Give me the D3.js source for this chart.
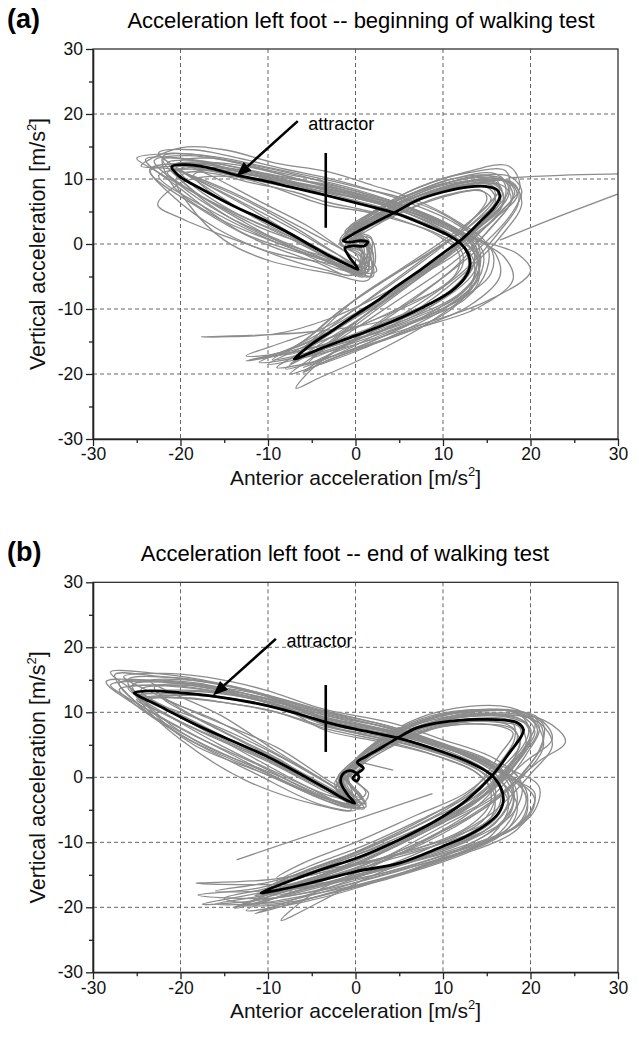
<!DOCTYPE html>
<html>
<head>
<meta charset="utf-8">
<script src="https://cdn.jsdelivr.net/npm/d3@7"></script>
<style>
  body { margin: 0; background: #fff; }
  svg { display: block; font-family: Arial, "Liberation Sans", sans-serif; }
</style>
</head>
<body>
<svg id="chart" width="639" height="1039"></svg>
<script>
// axis ticks (both axes run -30..30)
const majorTicks = [-30, -20, -10, 0, 10, 20, 30];
const minorTicks = [-25, -15, -5, 5, 15, 25];
const gridTicks = [-20, -10, 0, 10, 20];

// panel (a): beginning of walking test
const attractorA = [
  [-21.0, 11.9], [-19.5, 12.2], [-17.0, 11.8], [-13.6, 10.6], [-10.0, 9.6], [-7.5, 8.8], [-3.4, 7.5],
  [1.0, 6.0], [4.6, 4.7], [8.0, 2.9], [10.4, 1.5], [12.0, 0.1], [12.9, -1.6], [13.1, -3.2], [12.5, -5.2],
  [11.0, -7.2], [8.5, -9.2], [4.6, -11.7], [0.0, -14.1], [-4.0, -16.1], [-6.3, -17.4], [-7.0, -17.7],
  [-6.3, -16.8], [-4.9, -15.3], [-2.5, -13.2], [0.0, -10.9], [2.5, -8.7], [4.6, -6.6], [7.5, -3.9],
  [10.0, -1.4], [12.3, 0.9], [14.2, 3.4], [15.8, 5.6], [16.5, 7.3], [16.2, 8.3], [15.2, 8.8], [13.0, 8.8],
  [10.0, 8.0], [7.0, 6.7], [4.7, 5.0], [2.2, 3.3], [0.5, 2.1], [-0.8, 1.1], [-1.4, 0.5], [-0.6, 0.3],
  [0.6, 0.5], [1.4, 0.3], [1.0, -0.3], [-0.2, -0.3], [-1.2, -0.6], [-0.8, -1.8], [0.3, -3.9], [-1.0, -3.1],
  [-2.9, -1.9], [-7.5, 1.6], [-10.0, 3.4], [-14.0, 5.9], [-17.5, 8.4], [-20.1, 10.4]
];
const cyclesA = [
  [[-23,12.8],[-19,13.6],[-14,12.6],[-8,10.8],[-3.4,9.6],[1,8],[5,6.2],[11,2.6],[14.5,-1],[14,-5.5],[9.5,-10.5],[1,-16],[-4,-18.5],[-7.5,-20],[-5,-17.5],[0,-13],[5,-8.5],[11,-3],[15.5,2.5],[18,7.5],[16.5,10.2],[11,9.6],[5,6.8],[0.8,3.5],[-1.2,1.2],[1.2,0.2],[1.2,-4.5],[-2.5,-2.8],[-8,0.2],[-15,4.5],[-20.5,9.5]],
  [[-19.5,11],[-16,10.8],[-12.5,9.6],[-7,8],[-3.4,6.5],[1,5.2],[4.5,4],[9.5,1.2],[11.8,-1.4],[11.5,-4.5],[7.5,-8.5],[0,-12.8],[-4,-15],[-6,-16.5],[-4,-14],[0,-10],[4.5,-5.8],[9.5,-0.8],[13.2,3.5],[15.5,7],[14.2,8.2],[9.5,7.2],[4.5,4.4],[0.5,1.8],[-0.8,0.2],[0.5,-0.6],[0.5,-3.5],[-2.5,-1.2],[-7,2.6],[-13,7],[-18,10]],
  [[-22,13.5],[-18.5,13.8],[-14.5,12.8],[-8,10.5],[-3.4,8.8],[1.5,7.2],[5.5,5.8],[11.5,2.2],[13.8,-1.2],[13.2,-6],[8,-11],[-1,-16.5],[-6,-18.5],[-9,-19],[-6,-16.5],[-1,-12.2],[4.2,-7.5],[9.5,-2.5],[14.8,3.8],[17.5,8.5],[16,10.8],[10.5,9.8],[4.5,6.5],[0.2,3],[-1.4,0.8],[0.6,-0.4],[0.8,-4.6],[-3.5,-2.4],[-9,0.2],[-16,4.2],[-21,9.2]],
  [[-20,11.5],[-16.5,12.5],[-12,11.8],[-6.5,10],[-3.4,9],[2,7.2],[6,5.5],[12,2],[15.5,-0.8],[15.5,-4.5],[11,-9.2],[3,-14],[-3,-17],[-5.5,-18.5],[-3.5,-16],[1,-11.5],[6,-6.5],[11.5,-1],[16,4],[18.2,8],[17,9.8],[12,9.3],[6,6.8],[1.5,3.6],[-0.5,1],[1.5,0.4],[1.8,-3.8],[-1.5,-2.5],[-6.5,0.5],[-12.5,4.8],[-18,9.6]],
  [[-24,13],[-20,13.2],[-15,11.8],[-9,9.6],[-3.4,8],[2,6.4],[5.5,5.2],[11,2.4],[13.8,-0.5],[13.6,-4.2],[10,-8.5],[2.5,-13],[-5,-16],[-12.5,-18],[-7.5,-16.2],[-2,-12.8],[3.5,-8.5],[9,-3.5],[13.5,1.8],[16.8,6],[16.2,9.4],[12,9],[6.5,6.5],[2,3.5],[-0.5,1.2],[1,0],[2,-5],[-1,-3.5],[-6,-1.5],[-13,1.8],[-20,8.5]],
  [[-22.6,6],[-21,8.5],[-18,10.2],[-12,10.2],[-6,8.8],[-1,7],[4,5.2],[9,2.4],[12.5,-0.5],[13,-3.5],[10.5,-7.5],[4,-12],[-3,-15.5],[-7.5,-18.5],[-4.5,-15.8],[0.5,-11.5],[5.5,-6.8],[10.5,-1.8],[14.5,3],[17,7],[15.8,9.2],[10.5,8.6],[5,5.5],[1,2.8],[-1.5,0.6],[0.5,-0.8],[1.5,-4.2],[-3,-3],[-9,-1.5],[-15.3,1.4],[-20,4]],
  [[-21.5,12.5],[-18,12.8],[-13.5,11.2],[-7.5,9.5],[-3.4,8.2],[1,6.8],[5,5.5],[10.5,2.8],[13.2,0],[13.5,-3],[11,-7],[4,-11.5],[-5,-13.5],[-17.6,-14.3],[-9,-13.8],[-3,-11.5],[3,-7.8],[9,-3],[13.8,2.2],[17,6.5],[16.8,9.8],[12.5,9.6],[7,7.4],[2.5,4.4],[0,2],[1.5,0.6],[1,-4],[-2,-2.2],[-6.5,1],[-12.5,5.8],[-18.5,10.2]],
  [[-20.5,12.2],[-17,12.2],[-13,11],[-7.5,9.4],[-3.4,8.5],[0.5,7.2],[4.8,5.4],[10.8,1.4],[13.5,-2.5],[13,-7],[8.5,-12],[1,-17.5],[-4,-20.5],[-6.8,-22.2],[-4.8,-19],[0,-14.5],[5,-9.8],[11,-4],[15,1.8],[17.8,6.8],[16.8,9],[11.5,8.8],[5.5,6],[1,3],[-1,1],[1.3,-0.2],[1.6,-5],[-2,-3],[-7,0.8],[-14,5],[-19,9.5]],
  [[-21.5,11],[-18,11.5],[-14,10.5],[-8.5,9],[-3.4,8],[2,6.6],[7,4.2],[13,1],[18.5,-1.5],[20,-4.2],[15,-8.8],[6,-13],[-1.5,-16],[-10,-18.5],[-5.5,-15.5],[0,-11.2],[6,-5.5],[12,0],[16,4],[18.5,7.5],[17.4,9.6],[13,9.2],[7.5,7.5],[2.8,4.5],[-0.3,2],[1.5,-0.5],[0.5,-3.2],[-2.8,-2.2],[-8.5,1.5],[-14.5,5.2],[-19.5,8.8]],
  [[-22.5,14],[-18.5,14.5],[-14,13.4],[-8,11.5],[-3.4,10.2],[2,8.2],[6,6.4],[11,3.5],[13.8,0.5],[14.2,-3.5],[12,-7.5],[6,-11.5],[-2,-15],[-10.5,-17.5],[-6,-15.5],[-1,-11.8],[4.5,-7],[10,-2],[14.5,3],[17.5,7.5],[17.2,11.2],[13,11],[7,8.6],[2,5],[-0.8,2.3],[1,0.8],[1,-3.4],[-2.2,-1.5],[-7,2.2],[-13.5,6.8],[-19.5,11]],
  [[-24.5,12],[-20,14.8],[-15,14.5],[-9,12.4],[-3.4,11.2],[2,9],[6.5,7],[12,3.2],[15,0],[15,-4],[12.5,-8.5],[6,-12.5],[-1,-16.5],[-8,-19.2],[-4,-16],[0,-12],[6,-6],[11.5,-1.5],[16.2,4.5],[18.8,8.8],[17.5,12],[12.5,11],[6,8],[1.2,4.2],[-1,1.6],[1.8,0.8],[2,-3.5],[-2,-0.5],[-8,3.8],[-14.5,8.2],[-21,11.5]],
  [[-20.5,10],[-17,11.4],[-13,10.8],[-7,9.2],[-3.4,7.6],[1.5,6],[5,4.6],[10,2],[12.5,-0.8],[12.8,-4],[9.5,-8.8],[2,-13.8],[-5,-17],[-11,-18.2],[-7,-15.8],[-1.5,-11.8],[4,-7.4],[9.5,-2.8],[14,2.6],[16.6,6.8],[15.6,9],[11,8.6],[5.5,5.6],[1.4,2.6],[-0.3,0.2],[1.8,-0.8],[1.5,-5.5],[-3,-4.5],[-10,-2.5],[-15,0.6],[-19,6]],
  [[-25,13.2],[-21,13.9],[-16,13.4],[-10,11.8],[-3.4,9.9],[1,8.5],[5.5,7],[10,4.6],[13.5,1.5],[16,-1.5],[16.5,-5],[13,-9.5],[5,-14],[-3,-17.8],[-6,-19.8],[-3,-17],[2,-13.5],[7.5,-9],[12.5,-4],[16.5,2],[18.6,6.2],[18.2,9.2],[14,10.2],[8,8.5],[3,5.8],[0,3],[-1.8,0.5],[0.2,-1.8],[0.6,-4.8],[-4,-1],[-11,2.6],[-17,6.8],[-22.5,11]],
  [[-18.5,10.6],[-15.5,11.4],[-11,10.6],[-5.5,9],[-3.4,8.4],[0,7.4],[3.5,6.2],[8.5,3.6],[12,1],[14,-2.5],[13.8,-6.5],[10,-10],[3.5,-13.5],[-2,-16],[-5,-17.5],[-2.5,-14.8],[2,-10],[7,-5],[12.5,0.5],[15.2,4.5],[16.8,8],[15.5,9.6],[11,9],[6,6.2],[2,3.2],[0,1.2],[1,-0.8],[0,-4.2],[-3.5,-2],[-8,1.8],[-13,5.2],[-17,8.4]],
  [[-23.5,11.2],[-20,12],[-15.5,11],[-10.5,9.2],[-3.4,6],[1,5],[4.5,3.8],[9,1.8],[12,-0.8],[12.2,-3.4],[10,-6.5],[5.5,-9.5],[-1,-13.5],[-8.5,-16.8],[-12.5,-17.2],[-8,-15],[-3,-12.5],[3.5,-6.5],[8.5,-1.5],[12.8,3],[15,6.8],[14.5,8.2],[10.5,7.4],[5.5,5],[1.5,2.2],[-1.2,-0.4],[0.6,-2],[-0.5,-4.8],[-4.5,-2.8],[-11,0.4],[-17.5,5.2]],
  [[-22,13],[-19,13],[-15,12.2],[-10.5,10.8],[-3.4,8.3],[2.5,6.2],[6.5,4.4],[11.5,1],[13.6,-1.5],[14,-5],[11,-10],[5,-13.8],[-2,-17],[-6,-19],[-3,-17.5],[2,-14.2],[8,-9.2],[13,-3.8],[16.8,1.5],[19,6.2],[18,9.2],[13.5,9.8],[8.5,8],[3.5,5.2],[0.5,2.6],[-1.6,0],[0.8,-1.2],[2.4,-4.2],[-1.5,-4],[-7,-0.8],[-12.5,3.2],[-18.5,8.2]],
  [[-21,12],[-17.5,12.6],[-13,11.6],[-7,10],[-3.4,9.2],[1.5,7.6],[5.5,6],[11,2.8],[13.5,0.2],[14.2,-3.5],[12,-7.8],[6,-11.8],[-1,-15],[-6.5,-17],[-4.5,-14.2],[0,-8.5],[5,-4],[10,0.5],[14,4.6],[16.5,8.6],[15.6,10.4],[11,10],[5.5,7.2],[1,4],[-1.2,1.8],[1.4,0.4],[0.5,-4.2],[-2,-2.6],[-7,-0.5],[-13,3],[-18.5,8]],
  [[-23.5,11.5],[-19.5,12.4],[-14,11.6],[-8,9.8],[-3.4,8.6],[1.5,7],[6,5],[11.5,1.8],[14,-1.5],[13.8,-5.5],[10.5,-9.5],[3.5,-13.2],[-3.5,-16],[-9.5,-17.8],[-6,-15],[-2,-10.5],[3.5,-5.5],[9,-0.8],[13.5,3.2],[16,6.6],[15.2,8.6],[10.2,8.4],[5,5.8],[0.8,2.6],[-1.2,0.4],[0.8,-1.2],[0.2,-4.6],[-4,-3.8],[-10.5,-1],[-16,2.5],[-21,7.5]],
  [[-20,12.8],[-16.5,13.2],[-12,12.2],[-6,10.4],[-3.4,9.4],[1,7.8],[4.5,6.4],[10,3.4],[13,0.6],[13.6,-2.8],[11.5,-6.8],[5.5,-10.8],[-1.5,-14.5],[-8,-17],[-5,-14],[-1,-9.5],[4,-5],[9,-1],[13.2,3],[16,7.4],[15,9.6],[10.5,9.2],[5.5,6.8],[1.8,4],[-0.2,2],[1.8,1],[1.2,-3],[-1.5,-0.8],[-5.5,2.8],[-11,6.6],[-16.5,10.5]],
  [[-22.5,10.5],[-18.5,11.8],[-13.5,11.4],[-9,10.4],[-3.4,9],[1,7.4],[5,5.8],[10.5,3],[14,0.5],[17,-2],[18,-5.5],[14,-9.8],[7,-13],[-1,-16.8],[-4.5,-18.5],[-2,-16.2],[3,-12],[9,-6.2],[14.5,-0.2],[17.8,4.6],[19,8.2],[17.6,10.4],[13.5,10.4],[8,8.2],[3,5],[-0.2,2.4],[-1.8,0],[0.5,-1.5],[1,-5],[-3.5,-2.6],[-10,0.8],[-17,5.5]]
];
const strayA = [
  [[16.5, 0.6], [22, 3.6], [31, 8.2]],
  [[17.5, 10.2], [24, 10.6], [31, 10.8]]
];

// panel (b): end of walking test
const attractorB = [
  [-25.3, 13.0], [-23.5, 13.3], [-20.0, 13.0], [-16.3, 12.5], [-10.0, 11.0], [-6.4, 9.7], [-3.4, 8.5],
  [0.0, 7.4], [5.0, 6.0], [10.0, 3.9], [13.2, 2.2], [15.4, 0.5], [16.6, -1.6], [16.9, -3.6], [16.3, -5.6],
  [14.6, -7.6], [12.5, -9.2], [10.0, -10.6], [5.0, -13.2], [0.0, -14.5], [-5.3, -16.3], [-9.0, -17.4], [-10.8, -17.8],
  [-9.5, -17.0], [-7.2, -15.8], [-3.5, -14.0], [0.0, -12.5], [5.0, -9.6], [9.9, -6.1], [12.8, -3.4],
  [15.7, 0.4], [17.6, 3.8], [18.9, 6.2], [19.2, 7.3], [18.5, 8.4], [17.0, 8.8], [14.0, 8.9],
  [10.0, 8.5], [7.0, 7.6], [4.5, 5.8], [2.5, 4.2], [1.2, 3.2], [0.2, 2.3], [0.9, 1.4], [0.2, 0.6],
  [-0.3, -0.1], [0.1, -0.6], [0.4, 0.1], [-0.4, 1.0], [-1.3, 0.7], [-1.7, -0.6], [-1.0, -2.5], [-0.1, -4.0],
  [-1.5, -3.2], [-3.0, -2.0], [-10.1, 3.2], [-17.8, 7.8], [-22.5, 11.0], [-24.6, 12.4]
];
const cyclesB = [
  [[-27,14.5],[-22,14.8],[-16.3,14],[-10,12.5],[-3.4,9.8],[5,7.2],[10,5],[16.5,1.5],[18.5,-3],[16.5,-8.5],[6,-14.5],[-5,-18],[-12.5,-19.5],[-8,-17],[0,-13.5],[10,-7],[15.5,-3],[19.5,3.5],[21,7.8],[18.5,10],[10.5,9.8],[5.5,7.2],[1.5,4],[-0.5,1.8],[-2.2,-0.5],[0.5,-4.8],[-3.5,-3.2],[-11,1.8],[-19,6.8],[-25,11.5]],
  [[-23.5,12],[-19,12.2],[-15.5,11.6],[-9.5,10.2],[-3.4,7.5],[4.5,5.2],[9.5,3.2],[14.5,0],[15.5,-3.5],[13,-7.5],[4.5,-12],[-5,-15],[-9.5,-16.5],[-6.5,-14.8],[0,-11.5],[9.5,-5.2],[13.5,-1.8],[16.5,3.5],[18,6.8],[16,8],[10,7.8],[5,5.4],[1.2,2.8],[-0.2,1],[-1.4,-0.8],[0,-3.6],[-2.5,-1.5],[-9.5,3.8],[-17,8.5],[-22,11]],
  [[-28,16.2],[-23,16],[-17.5,15],[-11,13],[-3.4,10.2],[4.5,7.6],[10.5,5],[16,2],[18,-2],[16,-7],[8,-12],[-3,-16.5],[-14,-20],[-8,-17.5],[-1,-13.8],[8,-8],[14,-3.5],[18,2.5],[20.5,7],[18.5,9.8],[12,10.2],[6,8],[1.8,4.8],[-0.6,2],[-2,0],[-0.5,-4.5],[-4,-2.5],[-11,2.5],[-19,8.5],[-25.5,13.5]],
  [[-26,13.8],[-21,14],[-16,13.2],[-9.5,11.8],[-3.4,9],[5.5,6.5],[11,4.2],[17,0.5],[19.5,-3],[17.5,-7.8],[9,-12.5],[-2,-16],[-18.2,-16.3],[-8.5,-15.5],[1,-12],[11,-5.5],[16,-1.5],[19,3.5],[20,7.5],[17.5,9.2],[11,9],[5.8,6.5],[1.5,3.6],[0,1.5],[-1.5,-0.2],[0.2,-4.2],[-2.8,-2.6],[-10,2.4],[-18,7.2],[-24,11.6]],
  [[-24.5,13.5],[-20,14.2],[-15.5,13.5],[-9,11.8],[-3.4,8.8],[4,6.8],[9,4.8],[14.5,1.5],[17.5,-2.5],[16,-7],[10.5,-10.5],[2,-14.5],[-6.5,-17.5],[-13.8,-20.2],[-9,-17.5],[-2,-14],[7,-8.5],[13,-4],[17.5,1.5],[20,6],[19,8.8],[14,9.6],[7.5,7.8],[2.5,4.5],[0.2,2],[-1,-0.4],[1,-3.8],[-2,-2.5],[-9,2],[-16.5,6.8],[-22,10.8]],
  [[-28.5,14.7],[-24,15],[-18,14.5],[-11.5,12.5],[-3.4,9.5],[5,6.8],[11,4.2],[17.5,0],[20.5,-2.5],[19,-7],[11,-11.5],[1,-15.5],[-9,-18.5],[-18,-18.1],[-11,-17],[-3,-13.5],[7,-8],[14,-3.5],[19.5,2.5],[22.5,6],[20.5,9.5],[14.5,10.2],[8,8.2],[3,5],[0.5,2.4],[-1.2,0.2],[1.2,-4.5],[-3,-3.5],[-10,0.6],[-18,5.5],[-25,11]],
  [[-25,12.5],[-20.5,12.8],[-15,12.2],[-9,10.8],[-3.4,8.6],[5.5,6.2],[11.5,4],[18,1],[21,-1.5],[20,-6],[13,-10.5],[3,-14.5],[-8.5,-22],[-5,-18],[1,-14],[10,-7.5],[16,-3],[21,2.5],[24,5.5],[21.5,8.8],[15,9.5],[8.5,8.4],[3.5,5.5],[0.6,2.6],[-0.8,0.5],[-1.8,-1.5],[0.5,-4.5],[-2.8,-2.2],[-9.5,2.4],[-17.5,7],[-23,10.5]],
  [[-22.5,12.5],[-18.5,13.2],[-14,12.6],[-8,10.8],[-3.4,8],[4,6],[9,4],[14,1.2],[16,-2],[15,-6],[11,-9.5],[3,-13],[-4,-15.5],[-10,-17],[-6,-14.5],[1,-11],[9,-6],[13.5,-2.2],[17,2.5],[18.5,6.5],[17,8.3],[11,8.2],[5.2,5.8],[1.6,3.2],[0.4,1.2],[-1.2,-0.6],[-0.5,-3.8],[-2.8,-1.2],[-9.5,4],[-16,8.8],[-21,11.5]],
  [[-26.5,15.5],[-22,16],[-17,15.4],[-10.5,13.5],[-3.4,10.4],[4,8.4],[9.5,6],[16,2.8],[19,-1],[18,-5.5],[12.5,-10],[4,-13.8],[-6,-17],[-16,-17.5],[-9.5,-16],[-1.5,-12.5],[8.5,-6.5],[15,-1.8],[19,4],[20.5,8.5],[18,10.6],[13,10.9],[7,9],[2.5,5.6],[0,2.8],[-1.5,0.6],[0.8,-3.2],[-2.5,-1],[-9,4.6],[-17,9.2],[-23.5,13.2]],
  [[-24,12],[-20,12.2],[-15,11.5],[-9,10],[-3.4,7.8],[4.5,5.5],[10,3.4],[15,0.3],[17.5,-4],[15.5,-9],[8,-13.5],[-1,-17],[-8,-19.5],[-13,-19.6],[-8.5,-17.8],[-1,-14.5],[8,-9.5],[13,-5.5],[17,0],[19.5,5],[18.5,8.2],[13,8.6],[7,7],[2.5,4],[0.2,1.8],[-1,-1],[1,-4.8],[-2.5,-3.5],[-9.5,0.6],[-17,4.7],[-22,9]],
  [[-27.5,15.8],[-23,15.6],[-17,14.6],[-11,12.8],[-3.4,9.2],[4.5,7],[10.5,4.6],[16.5,1.2],[19.5,-2],[19,-6.5],[13,-11],[3,-15],[-8,-19],[-16,-19.5],[-9,-17.8],[-1,-14.8],[8,-10],[14.5,-5],[19,0],[21.5,5],[20,9],[14,9.8],[8,8],[3,5],[0.3,2.4],[-1.6,-0.4],[0.6,-4.2],[-3.8,-3],[-11.5,1.2],[-19.5,6.2],[-25.5,12]],
  [[-23,13.8],[-19,14.4],[-14.5,13.4],[-8.5,11.4],[-3.4,8.8],[3.5,6.6],[8.5,4.6],[13.5,2],[16.5,-1],[16.5,-5.5],[12,-9.8],[4,-13.6],[-4.5,-16.5],[-11.5,-18.2],[-7.5,-16.5],[0,-13.2],[8.5,-8],[14,-3.6],[18,1.5],[20,5.5],[19.5,8.4],[15.5,9.6],[9.5,8.8],[4,6],[1,3.2],[-0.8,0.8],[-0.2,-4],[-2.5,-2.6],[-8.5,2.6],[-15,7],[-20.5,11]],
  [[-25.5,14.2],[-21.5,14.6],[-16.5,13.6],[-10,11.6],[-3.4,8],[5,5.4],[11,3.2],[16.5,-0.5],[18.5,-4.5],[17,-8.5],[10.5,-12.5],[0,-16.8],[-9.5,-19.5],[-15,-18.6],[-10,-17],[-2,-13],[6,-9],[12,-5.5],[16.5,-0.5],[18.5,4],[18.8,7.6],[16,8.5],[10,8.2],[5,6.3],[1.8,3.8],[0,1.2],[-2,-1.2],[-0.3,-4.6],[-3.5,-3.5],[-10.5,0.6],[-18.5,5],[-23.5,10.5]],
  [[-22,12.2],[-18,12.6],[-13.5,12],[-8,10.4],[-3.4,7.2],[3,5.4],[8.5,3.6],[13.5,1],[15.8,-2.4],[15.5,-6.2],[11.5,-9],[5.5,-11.5],[-3,-14.4],[-9,-16],[-5.5,-13.8],[1.5,-10.2],[8.5,-5.8],[13,-2.8],[16.5,1.2],[18.8,5],[18,7.4],[14.5,8.2],[8.5,7.4],[4.5,5],[1.2,2.4],[-0.6,0.2],[1.5,-2.5],[0.4,-4.4],[-2.2,-2.2],[-8.5,2.4],[-15.5,7.2],[-20,10.4]],
  [[-27,13.5],[-23,14.2],[-18.5,13.8],[-12,12.2],[-3.4,10],[3.5,8],[9,5.6],[15,2.4],[18.5,-0.5],[20.5,-3.5],[18.5,-8],[12,-12],[4,-15.5],[-5,-18.6],[-11.5,-21],[-7,-18.8],[0,-15.5],[9,-10.5],[15.5,-5.6],[20,0.5],[22.5,5],[21,8.4],[16,9.8],[10,9.2],[5,7],[1.8,4],[-0.8,1.2],[-2.2,-1.8],[0,-5],[-4,-4.2],[-11.5,0.6],[-20,6.5],[-25.5,11.5]],
  [[-24.5,13],[-20.5,13.4],[-15,13],[-9.5,11.2],[-3.4,9],[4,7.2],[9,5.4],[14,2.8],[17,0],[18,-4],[15,-8.8],[7,-12.8],[-2,-16],[-9.5,-18.2],[-6,-16],[1,-12.8],[9.5,-7],[14.5,-2.8],[18.5,2.6],[20.8,7.2],[19,9.8],[12.5,10],[6.5,8.2],[2.2,5],[0,2.2],[-1.4,0.4],[1.2,-4],[-3.2,-2],[-10.5,3],[-17,7.6],[-22.5,11.4]],
  [[-26,15],[-21.5,15.4],[-16.5,14.6],[-10.5,12.6],[-3.4,9.6],[4.5,7.4],[10,5],[15.5,2],[18,-1.5],[17.5,-6],[12,-11],[3,-15.8],[-6,-19.2],[-12.5,-20.5],[-8,-18],[0,-14.8],[9,-9],[15,-4.5],[19,0.5],[21.5,5.8],[20.5,9.2],[15,10.4],[8.5,9],[3.5,6],[0.5,3],[-1.2,0.8],[-2.2,-1.6],[-0.5,-5],[-4.5,-4.2],[-12.5,-0.5],[-20,5.8],[-24.5,11.5]],
  [[-25,12],[-21,12.6],[-16.5,12.4],[-10,11],[-3.4,8.2],[3.5,6.4],[8.5,4.4],[14,1.8],[16.5,-1.6],[16.2,-5],[13,-8.6],[6.5,-11.4],[-2,-13.8],[-9,-15.5],[-6,-13.2],[0,-10],[7,-5.8],[12.5,-2.5],[16,1.5],[18.2,6],[17.8,8.6],[13,9],[7.5,7.6],[3,4.8],[0.5,2.2],[-1,0],[0.8,-3.2],[-2.5,-3],[-8.5,0.4],[-15.5,5],[-21.5,9.5]],
  [[-28,14.2],[-23.5,14.8],[-18,14.2],[-11,12],[-3.4,9.2],[4,7],[9.5,4.8],[15.5,1.8],[19,-1.5],[19.5,-5.8],[15,-10],[6,-14],[-4,-17.4],[-13,-19.2],[-17.5,-19.5],[-11,-17.8],[-3,-15.2],[6,-10.8],[13,-6],[18,-1],[21,4.2],[21.5,8],[18.5,10.2],[12,10],[6.5,8],[2,4.8],[-0.6,1.6],[-2.4,-1],[-0.6,-4.6],[-4.5,-3],[-12,2],[-20.5,8],[-26,12.2]],
  [[-23.5,14.8],[-19.5,15],[-14,14],[-8.5,12],[-3.4,10],[3,7.8],[8,5.6],[13,3],[16,0.5],[17.5,-3.5],[15,-8],[8,-12],[0,-15],[-7.5,-17.6],[-4.5,-15.6],[2,-11.6],[9,-6.8],[14,-2.6],[17.8,2.4],[19.8,7],[18.8,9.6],[14,10.4],[8.5,9.4],[3.8,6.6],[0.8,3.5],[-0.8,1],[1.2,-2.4],[0,-3.5],[-3,-1],[-9,4],[-15.5,9.6],[-21,13]]
];
const strayB = [
  [[-13.6, -12.7], [8.8, -2.5]],
  [[0.0, 2.5], [4.3, 1.1]]
];

// annotations: arrow tail/head, label anchor, vertical marker [x, y1, y2]
const panels = [
  { letter: '(a)', title: 'Acceleration left foot -- beginning of walking test', titleX: 361,
    top: 49, bottom: 439, cycles: cyclesA, stray: strayA, attractor: attractorA,
    arrow: [[-6.6, 18.9], [-13.6, 10.4]], label: [-5.4, 17.6], marker: [-3.4, 2.5, 14.0] },
  { letter: '(b)', title: 'Acceleration left foot -- end of walking test', titleX: 345,
    top: 582.3, bottom: 972.3, cycles: cyclesB, stray: strayB, attractor: attractorB,
    arrow: [[-9.1, 21.3], [-16.3, 12.6]], label: [-7.9, 20.0], marker: [-3.4, 3.9, 14.2] }
];

const svg = d3.select('#chart');
const left = 93, right = 618;

panels.forEach((p, i) => {
  const x = d3.scaleLinear().domain([-30, 30]).range([left, right]);
  const y = d3.scaleLinear().domain([-30, 30]).range([p.bottom, p.top]);
  const g = svg.append('g');

  const clipId = `clip-${i}`;
  g.append('clipPath').attr('id', clipId)
    .append('rect')
    .attr('x', left).attr('y', p.top)
    .attr('width', right - left).attr('height', p.bottom - p.top);

  // grid
  g.append('g').selectAll('line')
    .data(gridTicks)
    .join('line')
      .attr('x1', d => x(d)).attr('x2', d => x(d))
      .attr('y1', p.top).attr('y2', p.bottom)
      .attr('stroke', '#555').attr('stroke-width', 0.9)
      .attr('stroke-dasharray', '4,3');
  g.append('g').selectAll('line')
    .data(gridTicks)
    .join('line')
      .attr('y1', d => y(d)).attr('y2', d => y(d))
      .attr('x1', left).attr('x2', right)
      .attr('stroke', '#555').attr('stroke-width', 0.9)
      .attr('stroke-dasharray', '4,3');

  // gray trajectories
  const loop = d3.line().x(d => x(d[0])).y(d => y(d[1]))
    .curve(d3.curveCatmullRomClosed.alpha(0.5));
  const open = d3.line().x(d => x(d[0])).y(d => y(d[1]))
    .curve(d3.curveCatmullRom.alpha(0.5));
  const gray = g.append('g').attr('clip-path', `url(#${clipId})`)
    .attr('fill', 'none').attr('stroke', '#8c8c8c').attr('stroke-width', 1.3);
  gray.selectAll('path.cycle')
    .data(p.cycles)
    .join('path')
      .attr('class', 'cycle')
      .attr('d', loop);
  gray.selectAll('path.stray')
    .data(p.stray)
    .join('path')
      .attr('class', 'stray')
      .attr('d', open);

  // attractor
  g.append('path')
    .datum(p.attractor)
    .attr('d', loop)
    .attr('fill', 'none')
    .attr('stroke', '#000')
    .attr('stroke-width', 2.8)
    .attr('stroke-linejoin', 'round');

  // vertical marker
  g.append('line')
    .attr('x1', x(p.marker[0])).attr('x2', x(p.marker[0]))
    .attr('y1', y(p.marker[1])).attr('y2', y(p.marker[2]))
    .attr('stroke', '#000').attr('stroke-width', 2.6);

  // arrow
  const [t, h] = p.arrow;
  const tx = x(t[0]), ty = y(t[1]), hx = x(h[0]), hy = y(h[1]);
  const ang = Math.atan2(hy - ty, hx - tx);
  const len = 15, half = 6;
  const bx = hx - len * Math.cos(ang), by = hy - len * Math.sin(ang);
  g.append('line')
    .attr('x1', tx).attr('y1', ty).attr('x2', bx).attr('y2', by)
    .attr('stroke', '#000').attr('stroke-width', 2.6);
  g.append('polygon')
    .attr('points', [
      [hx, hy],
      [bx + half * Math.sin(ang), by - half * Math.cos(ang)],
      [bx - half * Math.sin(ang), by + half * Math.cos(ang)]
    ].map(q => q.join(',')).join(' '))
    .attr('fill', '#000');
  g.append('text')
    .attr('x', x(p.label[0])).attr('y', y(p.label[1]))
    .attr('font-size', 18)
    .text('attractor');

  // frame
  g.append('rect')
    .attr('x', left).attr('y', p.top)
    .attr('width', right - left).attr('height', p.bottom - p.top)
    .attr('fill', 'none').attr('stroke', '#222').attr('stroke-width', 1.2);

  // axes (plain hyphen for negative labels, as in the original)
  const fmt = d => String(d);
  const yAxis = g.append('g')
    .attr('transform', `translate(${left},0)`)
    .call(d3.axisLeft(y).tickValues(majorTicks).tickFormat(fmt).tickSize(7).tickSizeOuter(0).tickPadding(3));
  g.append('g')
    .attr('transform', `translate(${left},0)`)
    .call(d3.axisLeft(y).tickValues(minorTicks).tickSize(4).tickFormat(''))
    .call(a => a.select('.domain').remove());
  const xAxis = g.append('g')
    .attr('transform', `translate(0,${p.bottom})`)
    .call(d3.axisBottom(x).tickValues(majorTicks).tickFormat(fmt).tickSize(7).tickSizeOuter(0).tickPadding(2));
  g.append('g')
    .attr('transform', `translate(0,${p.bottom})`)
    .call(d3.axisBottom(x).tickValues(minorTicks).tickSize(4).tickFormat(''))
    .call(a => a.select('.domain').remove());
  g.selectAll('.tick line').attr('stroke', '#222').attr('stroke-width', 1.3);
  g.selectAll('.domain').attr('stroke', '#222').attr('stroke-width', 1.6);
  [yAxis, xAxis].forEach(a => a.selectAll('text')
    .attr('font-family', 'Arial, "Liberation Sans", sans-serif')
    .attr('font-size', 17.5).attr('fill', '#111'));

  // axis titles
  const xl = g.append('text')
    .attr('x', (left + right) / 2).attr('y', p.bottom + 46)
    .attr('text-anchor', 'middle').attr('font-size', 21).attr('fill', '#111');
  xl.append('tspan').text('Anterior acceleration [m/s');
  xl.append('tspan').attr('font-size', 13).attr('dy', -9).text('2');
  xl.append('tspan').attr('dy', 9).text(']');

  const yl = g.append('text')
    .attr('transform', `translate(45,${(p.top + p.bottom) / 2}) rotate(-90)`)
    .attr('text-anchor', 'middle').attr('font-size', 21.5).attr('fill', '#111');
  yl.append('tspan').text('Vertical acceleration [m/s');
  yl.append('tspan').attr('font-size', 13).attr('dy', -9).text('2');
  yl.append('tspan').attr('dy', 9).text(']');

  // panel letter and title
  g.append('text')
    .attr('x', 7).attr('y', p.top - 21)
    .attr('font-size', 27).attr('font-weight', 'bold')
    .text(p.letter);
  g.append('text')
    .attr('x', p.titleX).attr('y', p.top - 21)
    .attr('text-anchor', 'middle').attr('font-size', 22)
    .text(p.title);
});
</script>
</body>
</html>
